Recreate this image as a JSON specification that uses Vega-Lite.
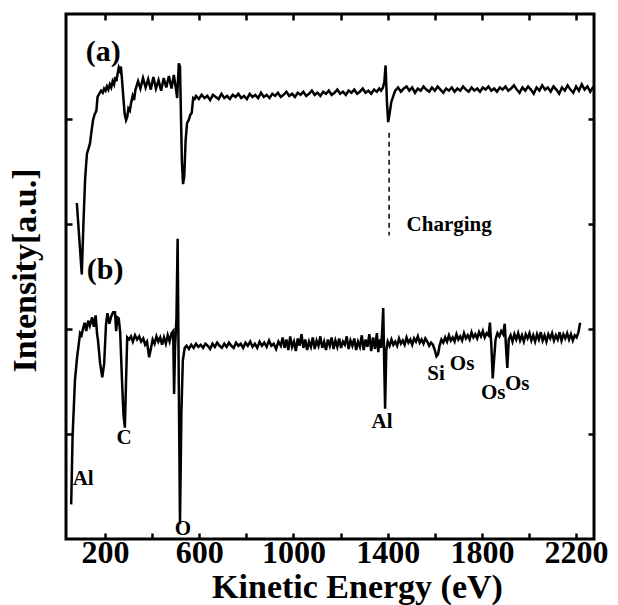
{
"$schema": "https://vega.github.io/schema/vega-lite/v6.json",
"width": 528, "height": 525,
"autosize": {"type": "none"},
"padding": {"left": 66, "top": 14, "right": 24, "bottom": 66},
"background": "white",
"config": {
  "view": {"stroke": "black", "strokeWidth": 3},
  "axis": {"domain": false, "grid": false, "ticks": true, "tickColor": "black", "tickWidth": 2.5, "tickSize": -6,
    "labelFont": "Liberation Serif", "labelFontWeight": "bold", "labelFontSize": 32, "labelColor": "black",
    "titleFont": "Liberation Serif", "titleFontWeight": "bold", "titleFontSize": 34, "titleColor": "black"},
  "text": {"font": "Liberation Serif", "fontWeight": "bold", "color": "black"}
},
"datasets": {
"a": [
{"E":80,"I":3.20},{"E":101,"I":2.52},{"E":108,"I":3.00},{"E":115,"I":3.42},{"E":119,"I":3.55},{"E":123,"I":3.67},{"E":130,"I":3.72},{"E":136,"I":3.77},{"E":142,"I":3.88},{"E":149,"I":3.99},{"E":155,"I":4.04},{"E":163,"I":4.08},{"E":168,"I":4.21},{"E":175,"I":4.24},{"E":183,"I":4.27},{"E":190,"I":4.25},{"E":196,"I":4.29},{"E":202,"I":4.27},{"E":208,"I":4.31},{"E":214,"I":4.28},{"E":220,"I":4.33},{"E":226,"I":4.30},{"E":232,"I":4.36},{"E":238,"I":4.33},{"E":243,"I":4.40},{"E":248,"I":4.36},{"E":253,"I":4.43},{"E":258,"I":4.49},{"E":263,"I":4.46},{"E":267,"I":4.50},{"E":271,"I":4.40},{"E":277,"I":4.22},{"E":283,"I":4.05},{"E":289,"I":3.99},{"E":294,"I":4.02},{"E":299,"I":4.10},{"E":305,"I":4.08},{"E":311,"I":4.16},{"E":317,"I":4.22},{"E":323,"I":4.18},
{"E":329,"I":4.28},{"E":340,"I":4.36},{"E":350,"I":4.29},{"E":361,"I":4.39},{"E":372,"I":4.30},{"E":383,"I":4.38},{"E":394,"I":4.28},{"E":405,"I":4.40},{"E":416,"I":4.29},{"E":427,"I":4.37},{"E":438,"I":4.27},{"E":449,"I":4.39},{"E":460,"I":4.30},{"E":471,"I":4.41},{"E":482,"I":4.29},{"E":492,"I":4.42},{"E":500,"I":4.30},{"E":506,"I":4.20},{"E":513,"I":4.53},{"E":518,"I":4.50},{"E":522,"I":4.05},{"E":526,"I":3.60},{"E":531,"I":3.38},{"E":536,"I":3.45},{"E":542,"I":3.80},{"E":548,"I":3.96},{"E":555,"I":3.99},{"E":562,"I":4.04},{"E":568,"I":4.06},{"E":574,"I":4.20},{"E":580,"I":4.19},
{"E":586,"I":4.22},{"E":598,"I":4.19},{"E":610,"I":4.23},{"E":622,"I":4.20},{"E":634,"I":4.22},{"E":646,"I":4.18},{"E":658,"I":4.23},{"E":670,"I":4.21},{"E":682,"I":4.19},{"E":694,"I":4.24},{"E":706,"I":4.20},{"E":718,"I":4.22},{"E":730,"I":4.19},{"E":742,"I":4.23},{"E":754,"I":4.21},{"E":766,"I":4.24},{"E":778,"I":4.20},{"E":790,"I":4.22},{"E":802,"I":4.19},{"E":814,"I":4.24},{"E":826,"I":4.21},{"E":838,"I":4.23},{"E":850,"I":4.20},{"E":862,"I":4.25},{"E":874,"I":4.21},{"E":886,"I":4.23},{"E":898,"I":4.20},{"E":910,"I":4.24},{"E":922,"I":4.22},{"E":934,"I":4.25},{"E":946,"I":4.21},{"E":958,"I":4.23},{"E":970,"I":4.26},{"E":982,"I":4.22},{"E":994,"I":4.24},{"E":1006,"I":4.21},{"E":1018,"I":4.25},{"E":1030,"I":4.23},{"E":1042,"I":4.26},{"E":1054,"I":4.22},{"E":1066,"I":4.24},{"E":1078,"I":4.27},{"E":1090,"I":4.23},{"E":1102,"I":4.25},{"E":1114,"I":4.22},{"E":1126,"I":4.26},{"E":1138,"I":4.24},{"E":1150,"I":4.27},{"E":1162,"I":4.23},{"E":1174,"I":4.25},{"E":1186,"I":4.28},{"E":1198,"I":4.24},{"E":1210,"I":4.26},{"E":1222,"I":4.23},{"E":1234,"I":4.27},{"E":1246,"I":4.25},{"E":1258,"I":4.28},{"E":1270,"I":4.24},{"E":1282,"I":4.26},{"E":1294,"I":4.29},{"E":1306,"I":4.25},{"E":1318,"I":4.27},{"E":1330,"I":4.24},{"E":1342,"I":4.28},{"E":1354,"I":4.26},{"E":1364,"I":4.29},
{"E":1372,"I":4.27},{"E":1380,"I":4.30},{"E":1386,"I":4.36},{"E":1391,"I":4.51},{"E":1397,"I":4.15},{"E":1402,"I":3.97},{"E":1408,"I":4.05},{"E":1415,"I":4.16},{"E":1424,"I":4.22},{"E":1432,"I":4.27},
{"E":1444,"I":4.30},{"E":1456,"I":4.26},{"E":1468,"I":4.29},{"E":1480,"I":4.31},{"E":1492,"I":4.27},{"E":1504,"I":4.30},{"E":1516,"I":4.25},{"E":1528,"I":4.29},{"E":1540,"I":4.27},{"E":1552,"I":4.31},{"E":1564,"I":4.28},{"E":1576,"I":4.26},{"E":1588,"I":4.30},{"E":1600,"I":4.27},{"E":1612,"I":4.31},{"E":1624,"I":4.28},{"E":1636,"I":4.25},{"E":1648,"I":4.29},{"E":1660,"I":4.27},{"E":1672,"I":4.30},{"E":1684,"I":4.26},{"E":1696,"I":4.29},{"E":1708,"I":4.27},{"E":1720,"I":4.31},{"E":1732,"I":4.28},{"E":1744,"I":4.26},{"E":1756,"I":4.30},{"E":1768,"I":4.27},{"E":1780,"I":4.29},{"E":1792,"I":4.26},{"E":1804,"I":4.30},{"E":1816,"I":4.28},{"E":1828,"I":4.31},{"E":1840,"I":4.27},{"E":1852,"I":4.29},{"E":1864,"I":4.26},{"E":1876,"I":4.30},{"E":1888,"I":4.28},{"E":1900,"I":4.31},{"E":1912,"I":4.27},{"E":1924,"I":4.29},{"E":1936,"I":4.32},{"E":1948,"I":4.28},{"E":1960,"I":4.25},{"E":1972,"I":4.30},{"E":1984,"I":4.27},{"E":1996,"I":4.31},{"E":2008,"I":4.28},{"E":2020,"I":4.24},{"E":2032,"I":4.30},{"E":2044,"I":4.27},{"E":2056,"I":4.32},{"E":2068,"I":4.28},{"E":2080,"I":4.30},{"E":2092,"I":4.26},{"E":2104,"I":4.31},{"E":2116,"I":4.28},{"E":2128,"I":4.24},{"E":2140,"I":4.30},{"E":2152,"I":4.27},{"E":2164,"I":4.32},{"E":2176,"I":4.28},{"E":2188,"I":4.25},{"E":2200,"I":4.31},{"E":2212,"I":4.27},{"E":2224,"I":4.33},{"E":2236,"I":4.28},{"E":2248,"I":4.31},{"E":2260,"I":4.26},{"E":2274,"I":4.31}
],
"b": [
{"E":56,"I":0.33},{"E":62,"I":0.98},{"E":72,"I":1.51},{"E":81,"I":1.73},{"E":94,"I":1.96},{"E":100,"I":1.94},{"E":107,"I":2.01},{"E":113,"I":2.06},{"E":120,"I":1.98},{"E":128,"I":2.08},{"E":135,"I":2.03},{"E":145,"I":2.11},{"E":152,"I":2.02},{"E":160,"I":2.13},{"E":166,"I":1.95},{"E":170,"I":1.89},{"E":179,"I":1.67},{"E":188,"I":1.54},{"E":196,"I":1.67},{"E":204,"I":2.05},{"E":210,"I":2.15},{"E":218,"I":2.05},{"E":226,"I":2.12},{"E":234,"I":2.16},{"E":242,"I":2.16},{"E":247,"I":1.98},{"E":252,"I":2.11},{"E":258,"I":2.10},{"E":264,"I":1.97},{"E":272,"I":1.50},{"E":278,"I":1.19},{"E":284,"I":1.06},{"E":289,"I":1.51},{"E":294,"I":1.92},{"E":302,"I":1.90},{"E":310,"I":1.93},{"E":318,"I":1.88},{"E":327,"I":1.94},{"E":336,"I":1.90},{"E":345,"I":1.93},{"E":353,"I":1.88},{"E":362,"I":1.91},{"E":370,"I":1.85},{"E":378,"I":1.88},{"E":387,"I":1.73},{"E":395,"I":1.82},{"E":402,"I":1.90},{"E":410,"I":1.86},{"E":418,"I":1.93},{"E":426,"I":1.88},{"E":434,"I":1.92},{"E":442,"I":1.85},{"E":450,"I":1.92},{"E":458,"I":1.86},{"E":466,"I":1.94},{"E":474,"I":1.88},{"E":482,"I":1.96},{"E":489,"I":1.98},{"E":493,"I":1.38},{"E":497,"I":1.82},{"E":503,"I":2.10},{"E":508,"I":2.86},{"E":514,"I":1.20},{"E":518,"I":0.14},{"E":524,"I":1.20},{"E":530,"I":1.70},{"E":538,"I":1.82},
{"E":546,"I":1.84},{"E":556,"I":1.81},{"E":566,"I":1.85},{"E":576,"I":1.82},{"E":586,"I":1.86},{"E":596,"I":1.83},{"E":606,"I":1.85},{"E":616,"I":1.82},{"E":626,"I":1.86},{"E":636,"I":1.84},{"E":646,"I":1.81},{"E":656,"I":1.86},{"E":666,"I":1.83},{"E":676,"I":1.87},{"E":686,"I":1.84},{"E":696,"I":1.82},{"E":706,"I":1.86},{"E":716,"I":1.83},{"E":726,"I":1.87},{"E":736,"I":1.84},{"E":746,"I":1.82},{"E":756,"I":1.87},{"E":766,"I":1.84},{"E":776,"I":1.86},{"E":786,"I":1.82},{"E":796,"I":1.87},{"E":806,"I":1.84},{"E":816,"I":1.88},{"E":826,"I":1.83},{"E":836,"I":1.86},{"E":846,"I":1.82},{"E":856,"I":1.88},{"E":866,"I":1.84},{"E":876,"I":1.87},{"E":886,"I":1.83},{"E":896,"I":1.89},{"E":906,"I":1.84},{"E":916,"I":1.86},{"E":926,"I":1.81},{"E":936,"I":1.88},{"E":946,"I":1.84},{"E":954,"I":1.92},{"E":962,"I":1.82},{"E":970,"I":1.90},{"E":978,"I":1.80},{"E":986,"I":1.93},{"E":994,"I":1.83},{"E":1002,"I":1.88},{"E":1010,"I":1.79},{"E":1018,"I":1.91},{"E":1026,"I":1.84},{"E":1034,"I":1.95},{"E":1042,"I":1.82},{"E":1050,"I":1.90},{"E":1058,"I":1.80},{"E":1066,"I":1.88},{"E":1074,"I":1.83},{"E":1082,"I":1.92},{"E":1090,"I":1.81},{"E":1098,"I":1.89},{"E":1106,"I":1.84},{"E":1114,"I":1.93},{"E":1122,"I":1.82},{"E":1130,"I":1.88},{"E":1138,"I":1.80},{"E":1146,"I":1.90},{"E":1154,"I":1.84},{"E":1162,"I":1.92},{"E":1170,"I":1.81},{"E":1178,"I":1.89},{"E":1186,"I":1.83},{"E":1194,"I":1.91},{"E":1202,"I":1.82},{"E":1210,"I":1.88},{"E":1218,"I":1.85},{"E":1226,"I":1.93},{"E":1234,"I":1.81},{"E":1242,"I":1.89},{"E":1250,"I":1.84},{"E":1258,"I":1.91},{"E":1266,"I":1.80},{"E":1274,"I":1.88},{"E":1282,"I":1.83},{"E":1290,"I":1.94},{"E":1298,"I":1.80},{"E":1306,"I":1.90},{"E":1314,"I":1.83},{"E":1322,"I":1.95},{"E":1330,"I":1.79},{"E":1338,"I":1.92},{"E":1346,"I":1.81},{"E":1354,"I":1.96},{"E":1360,"I":1.78},{"E":1366,"I":1.90},
{"E":1372,"I":1.82},{"E":1377,"I":2.00},{"E":1381,"I":2.20},{"E":1385,"I":1.70},{"E":1389,"I":1.24},{"E":1394,"I":1.80},{"E":1400,"I":1.88},
{"E":1408,"I":1.84},{"E":1416,"I":1.90},{"E":1424,"I":1.85},{"E":1432,"I":1.88},{"E":1440,"I":1.84},{"E":1448,"I":1.91},{"E":1456,"I":1.86},{"E":1464,"I":1.89},{"E":1472,"I":1.85},{"E":1480,"I":1.92},{"E":1488,"I":1.87},{"E":1496,"I":1.90},{"E":1504,"I":1.85},{"E":1512,"I":1.91},{"E":1520,"I":1.88},{"E":1528,"I":1.93},{"E":1536,"I":1.87},{"E":1544,"I":1.90},{"E":1552,"I":1.86},{"E":1560,"I":1.91},{"E":1568,"I":1.88},{"E":1576,"I":1.84},{"E":1584,"I":1.87},{"E":1592,"I":1.85},{"E":1600,"I":1.80},{"E":1607,"I":1.74},{"E":1614,"I":1.76},{"E":1620,"I":1.84},{"E":1628,"I":1.90},{"E":1636,"I":1.87},{"E":1644,"I":1.92},{"E":1652,"I":1.88},{"E":1660,"I":1.94},{"E":1668,"I":1.89},{"E":1676,"I":1.92},{"E":1684,"I":1.88},{"E":1692,"I":1.95},{"E":1700,"I":1.90},{"E":1708,"I":1.93},{"E":1716,"I":1.89},{"E":1724,"I":1.96},{"E":1732,"I":1.91},{"E":1740,"I":1.94},{"E":1748,"I":1.90},{"E":1756,"I":1.97},{"E":1764,"I":1.92},{"E":1772,"I":1.95},{"E":1780,"I":1.91},{"E":1788,"I":1.97},{"E":1796,"I":1.93},{"E":1804,"I":1.98},{"E":1812,"I":1.92},{"E":1820,"I":1.96},{"E":1828,"I":1.94},{"E":1834,"I":2.06},{"E":1840,"I":1.85},{"E":1846,"I":1.53},{"E":1852,"I":1.72},{"E":1858,"I":1.90},{"E":1866,"I":1.96},{"E":1874,"I":1.93},{"E":1882,"I":1.98},{"E":1890,"I":1.95},{"E":1897,"I":2.05},{"E":1903,"I":1.80},{"E":1908,"I":1.63},{"E":1914,"I":1.90},{"E":1922,"I":1.94},{"E":1930,"I":1.88},{"E":1938,"I":1.95},{"E":1946,"I":1.90},{"E":1954,"I":1.96},{"E":1962,"I":1.89},{"E":1970,"I":1.94},{"E":1978,"I":1.88},{"E":1986,"I":1.95},{"E":1994,"I":1.91},{"E":2002,"I":1.96},{"E":2010,"I":1.89},{"E":2018,"I":1.94},{"E":2026,"I":1.88},{"E":2034,"I":1.95},{"E":2042,"I":1.90},{"E":2050,"I":1.97},{"E":2058,"I":1.89},{"E":2066,"I":1.94},{"E":2074,"I":1.88},{"E":2082,"I":1.95},{"E":2090,"I":1.91},{"E":2098,"I":1.96},{"E":2106,"I":1.89},{"E":2114,"I":1.94},{"E":2122,"I":1.90},{"E":2130,"I":1.97},{"E":2138,"I":1.89},{"E":2146,"I":1.95},{"E":2154,"I":1.91},{"E":2162,"I":1.96},{"E":2170,"I":1.90},{"E":2178,"I":1.95},{"E":2186,"I":1.89},{"E":2194,"I":1.94},{"E":2202,"I":1.92},{"E":2210,"I":1.97},{"E":2217,"I":2.06}
],
"panels": [{"E":192,"I":4.64,"t":"(a)"},{"E":200,"I":2.56,"t":"(b)"}],
"notes": [{"E":107,"I":0.57,"t":"Al"},{"E":281,"I":0.96,"t":"C"},{"E":531,"I":0.1,"t":"O"},{"E":1376,"I":1.11,"t":"Al"},{"E":1605,"I":1.57,"t":"Si"},{"E":1716,"I":1.67,"t":"Os"},{"E":1848,"I":1.39,"t":"Os"},{"E":1950,"I":1.48,"t":"Os"},{"E":1661,"I":2.99,"t":"Charging"}],
"charge": [{"E":1406,"I":3.87,"I2":2.89}]
},
"layer": [
{"data": {"name": "a"}, "mark": {"type": "line", "stroke": "black", "strokeWidth": 2.5},
 "encoding": {
  "x": {"field": "E", "type": "quantitative", "scale": {"domain": [34, 2276], "nice": false, "zero": false},
        "axis": {"orient": "bottom", "title": "Kinetic Energy (eV)", "values": [200,400,600,800,1000,1200,1400,1600,1800,2000,2200],
                 "labelExpr": "datum.value % 400 == 200 ? datum.label : ''", "format": "d", "labelPadding": 4, "titlePadding": 2, "titleX": 291, "labelFlush": false, "labelOverlap": false}},
  "y": {"field": "I", "type": "quantitative", "scale": {"domain": [0, 5], "nice": false, "zero": false},
        "axis": {"orient": "left", "title": "Intensity[a.u.]", "values": [1,2,3,4], "labels": false, "titlePadding": 22, "titleY": 256}}
 }},
{"data": {"name": "b"}, "mark": {"type": "line", "stroke": "black", "strokeWidth": 2.5},
 "encoding": {
  "x": {"field": "E", "type": "quantitative", "axis": {"orient": "top", "title": null, "labels": false, "values": [200,400,600,800,1000,1200,1400,1600,1800,2000,2200]}},
  "y": {"field": "I", "type": "quantitative", "axis": {"orient": "right", "title": null, "labels": false, "values": [1,2,3,4]}}
 }},
{"data": {"name": "charge"}, "mark": {"type": "rule", "stroke": "black", "strokeWidth": 1.5, "strokeDash": [5, 4]},
 "encoding": {"x": {"field": "E", "type": "quantitative", "axis": null}, "y": {"field": "I", "type": "quantitative", "axis": null}, "y2": {"field": "I2"}}},
{"data": {"name": "notes"}, "mark": {"type": "text", "fontSize": 21, "align": "center", "baseline": "middle"},
 "encoding": {"x": {"field": "E", "type": "quantitative", "axis": null}, "y": {"field": "I", "type": "quantitative", "axis": null}, "text": {"field": "t"}}},
{"data": {"name": "panels"}, "mark": {"type": "text", "fontSize": 30, "align": "center", "baseline": "middle"},
 "encoding": {"x": {"field": "E", "type": "quantitative", "axis": null}, "y": {"field": "I", "type": "quantitative", "axis": null}, "text": {"field": "t"}}}
],
"resolve": {"axis": {"x": "independent", "y": "independent"}}
}
